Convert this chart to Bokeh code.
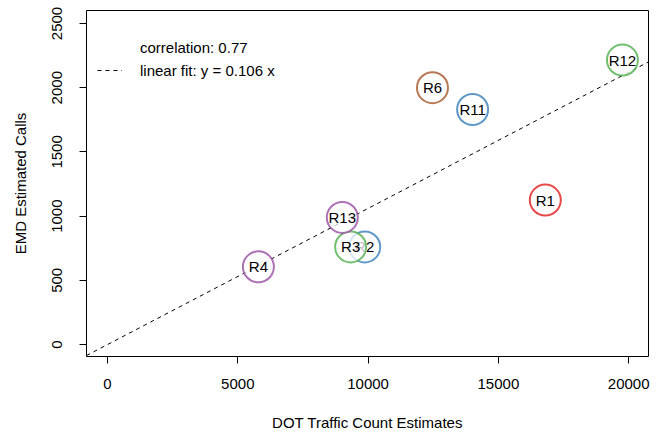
from bokeh.plotting import figure
from bokeh.models import Range1d, FixedTicker, Legend, LegendItem
from bokeh.core.properties import value
from bokeh.embed import file_html
from bokeh.resources import INLINE

# Region estimates: DOT traffic counts vs EMD calls
regions = ["R1", "R2", "R3", "R4", "R6", "R11", "R12", "R13"]
dot_counts = [16800, 9870, 9330, 5790, 12470, 14010, 19760, 9010]
emd_calls = [1125, 760, 760, 605, 2000, 1830, 2215, 990]
colors = ["#E41A1C", "#377EB8", "#4DAF4A", "#984EA3", "#A65628",
          "#377EB8", "#4DAF4A", "#984EA3"]

fit_slope = 0.106
correlation = 0.77

x_ticks = [0, 5000, 10000, 15000, 20000]
y_ticks = [0, 500, 1000, 1500, 2000, 2500]

FONT = "Liberation Sans"
SIZE = "15px"

p = figure(width=657, height=435, output_backend="svg", toolbar_location=None,
           x_range=Range1d(-806, 20760), y_range=Range1d(-93, 2601),
           min_border_left=86, min_border_right=9, min_border_top=10,
           min_border_bottom=79)
p.grid.visible = False
p.outline_line_color = "black"
p.outline_line_width = 1
p.background_fill_color = "white"
p.border_fill_color = "white"

for ax in (p.xaxis[0], p.yaxis[0]):
    ax.axis_line_color = None
    ax.major_tick_line_color = "black"
    ax.major_tick_out = 7
    ax.major_tick_in = 0
    ax.minor_tick_line_color = None
    ax.major_label_text_font = FONT
    ax.major_label_text_font_size = SIZE
    ax.major_label_text_color = "black"
    ax.axis_label_text_font = FONT
    ax.axis_label_text_font_size = SIZE
    ax.axis_label_text_font_style = "normal"
    ax.axis_label_text_color = "black"

p.xaxis.ticker = FixedTicker(ticks=x_ticks)
p.yaxis.ticker = FixedTicker(ticks=y_ticks)
p.xaxis.major_label_standoff = 15
p.yaxis.major_label_standoff = 17
p.yaxis.major_label_orientation = "vertical"
p.xaxis.axis_label = "DOT Traffic Count Estimates"
p.yaxis.axis_label = "EMD Estimated Calls"
p.xaxis.axis_label_standoff = 22
p.yaxis.axis_label_standoff = 21

# Linear fit through the origin across the full x range
x0, x1 = p.x_range.start, p.x_range.end
fit = p.line([x0, x1], [fit_slope * x0, fit_slope * x1], line_color="black",
             line_width=1, line_dash="4 4")

# Each region: a translucent circle followed by its label
for name, xv, yv, c in zip(regions, dot_counts, emd_calls, colors):
    p.scatter([xv], [yv], size=31, marker="circle", fill_color="white",
              fill_alpha=0.75, line_color=c, line_alpha=0.8, line_width=2)
    p.text([xv], [yv], text=[name], text_font=value(FONT),
           text_font_size=SIZE, text_align="center",
           text_baseline="middle", text_color="black")

blank = p.line([x0, x0], [0, 0], line_alpha=0)
legend = Legend(items=[
    LegendItem(label=f"correlation: {correlation}", renderers=[blank]),
    LegendItem(label=f"linear fit: y = {fit_slope} x", renderers=[fit]),
], location=(11, 276), orientation="vertical")
legend.border_line_color = None
legend.background_fill_alpha = 0
legend.margin = 0
legend.padding = 0
legend.spacing = 3
legend.glyph_width = 25
legend.glyph_height = 20
legend.label_height = 20
legend.label_standoff = 18
legend.label_text_font = FONT
legend.label_text_font_size = SIZE
legend.label_text_color = "black"
p.add_layout(legend)

open("out.html", "w").write(file_html(p, INLINE))
